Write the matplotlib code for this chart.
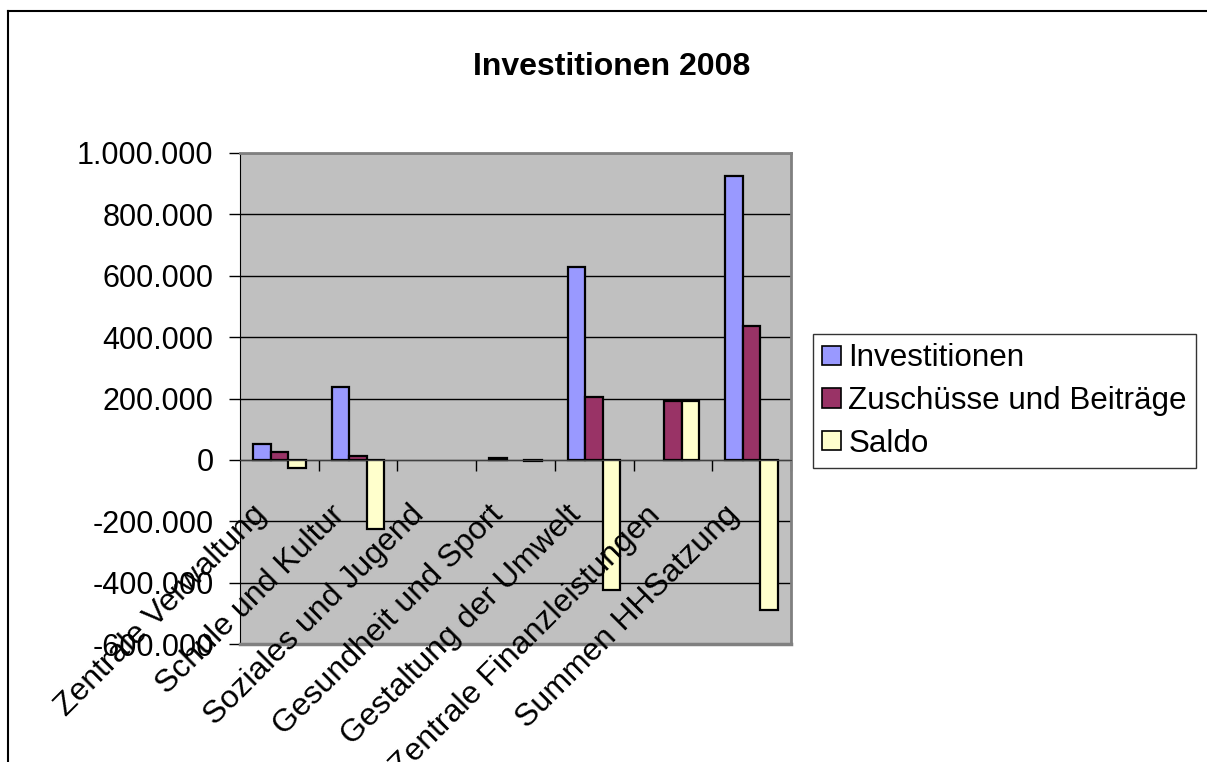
import matplotlib.pyplot as plt
import numpy as np
from matplotlib.lines import Line2D
from matplotlib.ticker import FuncFormatter, FixedLocator

plt.rcParams['font.family'] = ['Liberation Sans', 'DejaVu Sans']

categories = ["Zentrale Verwaltung", "Schule und Kultur", "Soziales und Jugend",
              "Gesundheit und Sport", "Gestaltung der Umwelt",
              "Zentrale Finanzleistungen", "Summen HHSatzung"]
investitionen = [52000, 238000, 0, 5000, 630000, 0, 925000]
zuschuesse = [27000, 13000, 0, 0, 206000, 191000, 437000]
saldo = [-25000, -225000, 0, -5000, -424000, 191000, -488000]
series_names = ["Investitionen", "Zuschüsse und Beiträge", "Saldo"]
colors = ["#9999FF", "#993366", "#FFFFCC"]

fig = plt.figure(figsize=(12.07, 7.62), dpi=100)
ax = fig.add_axes([240/1207, 1-644/762, 551/1207, 491/762])
ax.set_facecolor("#C0C0C0")

x = np.arange(len(categories))
w = 1/4.5
for i, (vals, name, c) in enumerate(zip([investitionen, zuschuesse, saldo], series_names, colors)):
    bars = ax.bar(x + (i-1)*w, vals, w, color=c, edgecolor="black", linewidth=1.6,
                  label=name, zorder=3)
    for b, v in zip(bars, vals):
        if v == 0:
            b.set_visible(False)

ax.set_xlim(-0.5, len(categories)-0.5)
ax.set_ylim(-600000, 1000000)
ax.set_yticks(np.arange(-600000, 1000001, 200000))
ax.yaxis.set_major_formatter(FuncFormatter(lambda v, p: f"{int(v):,}".replace(",", ".")))
ax.grid(axis="y", color="black", linewidth=1, zorder=1)
ax.tick_params(axis="y", direction="out", length=8, width=1, pad=11, labelsize=22)

# x axis sits at zero
ax.spines["bottom"].set_position(("data", 0))
ax.spines["bottom"].set_color("#404040")
ax.spines["bottom"].set_zorder(4)
for s in ["top", "right"]:
    ax.spines[s].set_color("#808080")
    ax.spines[s].set_linewidth(2)
ax.spines["left"].set_color("black")
ax.axhline(-600000, color="#808080", linewidth=2.5, zorder=4, clip_on=False)

# category labels, rotated, hanging from the zero line
ax.set_xticks(x)
ax.set_xticklabels([])
ax.tick_params(axis="x", which="major", length=0)
for xi, cat in zip(x, categories):
    ax.annotate(cat, xy=(xi, 0), xytext=(-28, -40), textcoords="offset pixels",
                rotation=45, ha="right", va="top", rotation_mode="anchor",
                fontsize=23, annotation_clip=False, zorder=5)
ax.xaxis.set_minor_locator(FixedLocator(np.arange(0.5, len(categories) + 0.5, 1)))
ax.tick_params(axis="x", which="minor", direction="out", length=8, width=1, color="black")

fig.text(612/1207, 1-67/762, "Investitionen 2008", ha="center", va="center",
         fontsize=23, fontweight="bold")

leg = fig.legend(loc="upper left", bbox_to_anchor=(813/1207, 1-334/762),
                 fontsize=22.6, frameon=True, fancybox=False, edgecolor="black",
                 handlelength=0.58, handleheight=0.58, handletextpad=0.25,
                 labelspacing=0.4, borderpad=0.3, borderaxespad=0)
leg.get_frame().set_linewidth(1)
for h in leg.legend_handles:
    h.set_linewidth(1.2)

# chart border
fig.add_artist(Line2D([8/1207, 8/1207], [0, 1-11/762], transform=fig.transFigure,
                      color="black", linewidth=1.5))
fig.add_artist(Line2D([8/1207, 1], [1-11/762, 1-11/762], transform=fig.transFigure,
                      color="black", linewidth=1.5))

fig.savefig("out.png", dpi=100)
